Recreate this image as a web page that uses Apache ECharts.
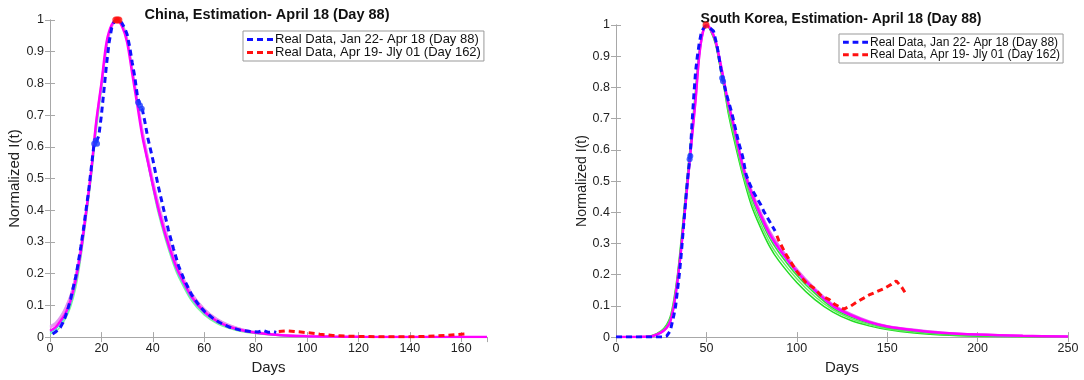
<!DOCTYPE html>
<html>
<head>
<meta charset="utf-8">
<script src="https://cdn.jsdelivr.net/npm/echarts@6/dist/echarts.min.js"></script>
<style>
html,body{margin:0;padding:0;background:#fff;}
#chart{width:1084px;height:380px;}
</style>
</head>
<body>
<div id="chart"></div>
<script>
// ---------- China ----------
const chinaFitDays = [0,2,4,6,8,10,12,14,16,18,20,22,24,26,28,30,32,34,36,38,40,42,45,48,50,55,60,65,70,75,80,90,100,110,120,140,170];
const chinaFitMagenta = [0.02,0.03,0.05,0.075,0.115,0.18,0.27,0.39,0.52,0.68,0.80,0.93,0.985,1.0,0.98,0.93,0.83,0.73,0.63,0.555,0.48,0.41,0.32,0.245,0.205,0.128,0.08,0.05,0.032,0.021,0.014,0.006,0.003,0.0015,0.0008,0.0002,0];
const chinaFitPink = [0.03,0.04,0.06,0.09,0.13,0.195,0.285,0.4,0.53,0.68,0.8,0.92,0.98,1.0,0.985,0.94,0.845,0.745,0.65,0.57,0.495,0.425,0.335,0.26,0.215,0.138,0.088,0.056,0.036,0.024,0.016,0.007,0.003,0.0015,0.0008,0.0003,0.0001];
const chinaFitLilac = [0.035,0.045,0.065,0.095,0.135,0.2,0.29,0.4,0.525,0.67,0.79,0.91,0.975,1.0,0.985,0.94,0.85,0.75,0.655,0.575,0.5,0.43,0.34,0.265,0.22,0.142,0.09,0.058,0.038,0.025,0.017,0.008,0.004,0.002,0.001,0.0004,0.0001];
const chinaFitGreen = [0.01,0.017,0.032,0.058,0.095,0.155,0.25,0.37,0.5,0.65,0.78,0.91,0.98,1.0,0.99,0.945,0.845,0.74,0.635,0.55,0.47,0.395,0.305,0.23,0.19,0.115,0.07,0.043,0.027,0.017,0.011,0.004,0.0015,0.0006,0.0003,0.0001,0];
const chinaFitCyan = [0.015,0.024,0.042,0.066,0.105,0.17,0.26,0.38,0.51,0.67,0.79,0.92,0.982,1.0,0.985,0.94,0.84,0.735,0.632,0.552,0.475,0.403,0.313,0.238,0.198,0.122,0.075,0.047,0.03,0.019,0.013,0.005,0.002,0.001,0.0005,0.0001,0];
const chinaBlueDays = [1,2,3,4,5,6,7,8,9,10,11,12,13,14,15,16,17,18,19,20,21,22,23,24,25,26,27,28,29,30,31,32,33,34,35,36,37,38,39,40,42,44,46,48,50,52,55,58,60,63,66,70,74,78,81,83,85,87,88];
const chinaBlueValues = [0.01,0.015,0.022,0.03,0.045,0.065,0.09,0.12,0.155,0.19,0.235,0.285,0.34,0.4,0.46,0.53,0.6,0.615,0.635,0.7,0.78,0.86,0.93,0.975,0.995,1.0,1.0,0.99,0.975,0.955,0.915,0.865,0.82,0.76,0.73,0.715,0.675,0.63,0.595,0.56,0.48,0.41,0.34,0.28,0.225,0.185,0.135,0.1,0.082,0.062,0.046,0.031,0.022,0.018,0.016,0.021,0.015,0.017,0.015];
const chinaRedDays = [89,92,95,100,105,110,115,120,130,140,145,150,155,160,162];
const chinaRedValues = [0.018,0.02,0.018,0.014,0.009,0.005,0.003,0.002,0.001,0.001,0.002,0.004,0.006,0.009,0.01];
const chinaBlueMarkDays = [17.2,17.8,18.3,34.3,35.0,35.7];
const chinaBlueMarkValues = [0.61,0.62,0.61,0.74,0.73,0.72];
const chinaRedMarkDays = [25.6,26.2,26.8];
const chinaRedMarkValues = [1.0,1.0,1.0];

// ---------- South Korea ----------
const koreaFitDays = [0,10,15,20,25,28,30,32,34,36,38,40,42,44,46,48,50,52,55,58,60,62,65,70,75,80,85,90,100,110,120,130,140,150,165,180,200,225,250];
const koreaFitMagenta = [0,0,0.001,0.003,0.015,0.03,0.05,0.1,0.18,0.28,0.4,0.52,0.64,0.76,0.9,0.975,1.0,0.99,0.95,0.87,0.81,0.75,0.68,0.55,0.46,0.39,0.33,0.285,0.21,0.15,0.1,0.07,0.048,0.034,0.022,0.014,0.008,0.004,0.002];
const koreaFitPink = [0,0,0.001,0.003,0.014,0.029,0.048,0.097,0.175,0.275,0.395,0.515,0.635,0.755,0.895,0.974,1.0,0.991,0.953,0.875,0.817,0.757,0.688,0.558,0.47,0.4,0.34,0.295,0.218,0.156,0.105,0.074,0.051,0.036,0.024,0.015,0.009,0.0045,0.0022];
const koreaFitCyan = [0,0,0.001,0.003,0.015,0.031,0.052,0.102,0.182,0.283,0.403,0.523,0.643,0.763,0.9,0.976,1.0,0.99,0.95,0.868,0.808,0.746,0.675,0.545,0.455,0.385,0.326,0.281,0.206,0.147,0.098,0.068,0.047,0.033,0.021,0.013,0.007,0.0035,0.0018];
const koreaFitGreen1 = [0,0,0.001,0.005,0.02,0.04,0.065,0.12,0.2,0.31,0.43,0.55,0.67,0.79,0.91,0.98,1.0,0.985,0.94,0.85,0.79,0.72,0.64,0.52,0.42,0.35,0.29,0.245,0.175,0.12,0.08,0.053,0.036,0.024,0.013,0.007,0.003,0.001,0.0005];
const koreaFitGreen2 = [0,0,0.001,0.004,0.018,0.037,0.06,0.113,0.193,0.3,0.42,0.54,0.66,0.78,0.905,0.978,1.0,0.987,0.943,0.857,0.797,0.73,0.653,0.53,0.433,0.363,0.303,0.258,0.187,0.13,0.087,0.059,0.04,0.027,0.016,0.009,0.005,0.002,0.001];
const koreaFitGreen3 = [0,0,0.001,0.003,0.016,0.033,0.055,0.107,0.187,0.29,0.41,0.53,0.65,0.77,0.9,0.977,1.0,0.988,0.947,0.863,0.803,0.74,0.667,0.54,0.447,0.377,0.317,0.272,0.198,0.14,0.093,0.064,0.044,0.03,0.019,0.011,0.006,0.003,0.0015];
const koreaBlueDays = [0,10,20,26,28,30,31,32,33,34,35,36,37,38,39,40,41,42,43,44,45,46,47,48,49,50,52,54,56,58,59,61,64,66,68,70,72,74,76,78,80,82,84,86,88];
const koreaBlueValues = [0,0,0,0,0.003,0.02,0.045,0.07,0.1,0.15,0.2,0.26,0.33,0.4,0.47,0.53,0.58,0.68,0.77,0.85,0.9,0.94,0.97,0.985,0.995,1.0,0.99,0.98,0.93,0.86,0.83,0.78,0.72,0.67,0.62,0.58,0.52,0.49,0.465,0.445,0.425,0.4,0.38,0.36,0.34];
const koreaRedDays = [89,90,94,100,105,110,113,118,121,126,130,133,137,140,144,148,152,155,158,161];
const koreaRedValues = [0.325,0.31,0.265,0.21,0.175,0.155,0.135,0.12,0.105,0.09,0.1,0.112,0.125,0.135,0.145,0.155,0.168,0.18,0.16,0.133];
const koreaBlueMarkDays = [40.7,41.1,58.7,59.2];
const koreaBlueMarkValues = [0.57,0.58,0.83,0.82];
const koreaRedMarkDays = [49.8];
const koreaRedMarkValues = [1.0];

const legendNames = ['Real Data, Jan 22- Apr 18 (Day 88)', 'Real Data, Apr 19- Jly 01 (Day 162)'];
const titles = ['China, Estimation- April 18 (Day 88)', 'South Korea, Estimation- April 18 (Day 88)'];

function zip(xs, ys) { return xs.map((x, i) => [x, ys[i]]); }

const FONT = '"Liberation Sans", Arial, Helvetica, sans-serif';
const AX = '#a8a8a8';
const DASH_ICON = 'path://M0,0h6v3h-6z M10,0h6v3h-6z M20,0h6v3h-6z';

function fit(name, xs, ys, color, width, gi, z) {
  return { type: 'line', name: name, xAxisIndex: gi * 2, yAxisIndex: gi * 2, data: zip(xs, ys),
    smooth: 0.3, symbol: 'none', lineStyle: { color: color, width: width }, z: z, silent: true };
}
function dashed(name, xs, ys, color, gi) {
  return { type: 'line', name: name, xAxisIndex: gi * 2, yAxisIndex: gi * 2, data: zip(xs, ys),
    symbol: 'none', itemStyle: { color: color },
    lineStyle: { color: color, width: 3, type: [6, 4] }, z: 10 };
}
function marks(xs, ys, color, size, gi) {
  return { type: 'scatter', xAxisIndex: gi * 2, yAxisIndex: gi * 2, data: zip(xs, ys),
    symbol: 'circle', symbolSize: size, itemStyle: { color: color }, z: 11 };
}

function xAxes(gi, max, interval) {
  const base = { type: 'value', gridIndex: gi, min: 0, max: max, interval: interval,
    axisLine: { show: true, lineStyle: { color: AX, width: 1 } },
    axisTick: { show: true, inside: true, length: 5, lineStyle: { color: AX } },
    splitLine: { show: false } };
  return [
    Object.assign({}, base, { position: 'bottom', name: 'Days', nameLocation: 'middle', nameGap: 21,
      nameTextStyle: { fontFamily: FONT, fontSize: 15, color: '#222' },
      axisLabel: { show: true, margin: 5, fontFamily: FONT, fontSize: 12.5, color: '#222', showMaxLabel: max % interval === 0 } }),
    Object.assign({}, base, { position: 'top', axisLabel: { show: false } })
  ];
}
function yAxes(gi) {
  const base = { type: 'value', gridIndex: gi, min: 0, max: 1, interval: 0.1,
    axisLine: { show: true, lineStyle: { color: AX, width: 1 } },
    axisTick: { show: true, inside: true, length: 5, lineStyle: { color: AX } },
    splitLine: { show: false } };
  return [
    Object.assign({}, base, { position: 'left', name: 'Normalized I(t)', nameLocation: 'middle', nameGap: 27,
      nameTextStyle: { fontFamily: FONT, fontSize: gi === 0 ? 15 : 14, color: '#222' },
      axisLabel: { show: true, margin: 6, fontFamily: FONT, fontSize: 12.5, color: '#222' } }),
    Object.assign({}, base, { position: 'right', axisLabel: { show: false } })
  ];
}

const chart = echarts.init(document.getElementById('chart'), null, { renderer: 'canvas' });
const option = {
  animation: false,
  backgroundColor: '#ffffff',
  title: [
    { text: titles[0], left: 262, top: 2, textAlign: 'center',
      textStyle: { fontFamily: FONT, fontSize: 14.5, fontWeight: 'bold', color: '#111' } },
    { text: titles[1], left: 836, top: 7, textAlign: 'center',
      textStyle: { fontFamily: FONT, fontSize: 14, fontWeight: 'bold', color: '#111' } }
  ],
  legend: [
    { data: legendNames.map(n => ({ name: n, icon: DASH_ICON })), orient: 'vertical', left: 243, top: 31,
      itemWidth: 26, itemHeight: 3, itemGap: 0,
      padding: [2, 3, 2, 4], borderColor: '#999', borderWidth: 1, backgroundColor: '#fff',
      textStyle: { fontFamily: FONT, fontSize: 13, lineHeight: 13, color: '#111', padding: [0, 0, 0, -3] }, selectedMode: false },
    { data: legendNames.map(n => ({ name: n, icon: DASH_ICON })), orient: 'vertical', left: 839, top: 34,
      itemWidth: 25, itemHeight: 3, itemGap: 0,
      padding: [2, 3, 2, 4], borderColor: '#999', borderWidth: 1, backgroundColor: '#fff',
      textStyle: { fontFamily: FONT, fontSize: 12, lineHeight: 12.5, color: '#111', padding: [0, 0, 0, -3] }, selectedMode: false }
  ],
  grid: [
    { left: 50, top: 20, width: 437, height: 319 },
    { left: 616, top: 25, width: 452, height: 314 }
  ],
  xAxis: [].concat(xAxes(0, 170, 20), xAxes(1, 250, 50)),
  yAxis: [].concat(yAxes(0), yAxes(1)),
  series: [
    // China fits
    fit('cf1', chinaFitDays, chinaFitLilac, '#d7a6ee', 1.5, 0, 2),
    fit('cf2', chinaFitDays, chinaFitGreen, '#7cf29a', 1.5, 0, 2),
    fit('cf3', chinaFitDays, chinaFitCyan, '#3fe3e0', 1.5, 0, 3),
    fit('cf4', chinaFitDays, chinaFitPink, '#f08cf0', 2, 0, 3),
    fit('cf5', chinaFitDays, chinaFitMagenta, '#ff00ff', 2.5, 0, 4),
    dashed(legendNames[0], chinaBlueDays, chinaBlueValues, '#1010ff', 0),
    dashed(legendNames[1], chinaRedDays, chinaRedValues, '#ff1010', 0),
    marks(chinaBlueMarkDays, chinaBlueMarkValues, '#1a3cff', 6, 0),
    marks(chinaRedMarkDays, chinaRedMarkValues, '#ff1010', 7, 0),
    // Korea fits
    fit('kf1', koreaFitDays, koreaFitGreen1, '#22dd22', 1.5, 1, 2),
    fit('kf2', koreaFitDays, koreaFitGreen2, '#66ee66', 1.5, 1, 2),
    fit('kf3', koreaFitDays, koreaFitGreen3, '#33e033', 1.5, 1, 2),
    fit('kf4', koreaFitDays, koreaFitCyan, '#30d8e8', 1.5, 1, 3),
    fit('kf5', koreaFitDays, koreaFitPink, '#e070f0', 2, 1, 3),
    fit('kf6', koreaFitDays, koreaFitMagenta, '#ff00ff', 2.5, 1, 4),
    dashed(legendNames[0], koreaBlueDays, koreaBlueValues, '#1010ff', 1),
    dashed(legendNames[1], koreaRedDays, koreaRedValues, '#ff1010', 1),
    marks(koreaBlueMarkDays, koreaBlueMarkValues, '#1a3cff', 6, 1),
    marks(koreaRedMarkDays, koreaRedMarkValues, '#ff1010', 7, 1)
  ]
};
chart.setOption(option);
</script>
</body>
</html>
